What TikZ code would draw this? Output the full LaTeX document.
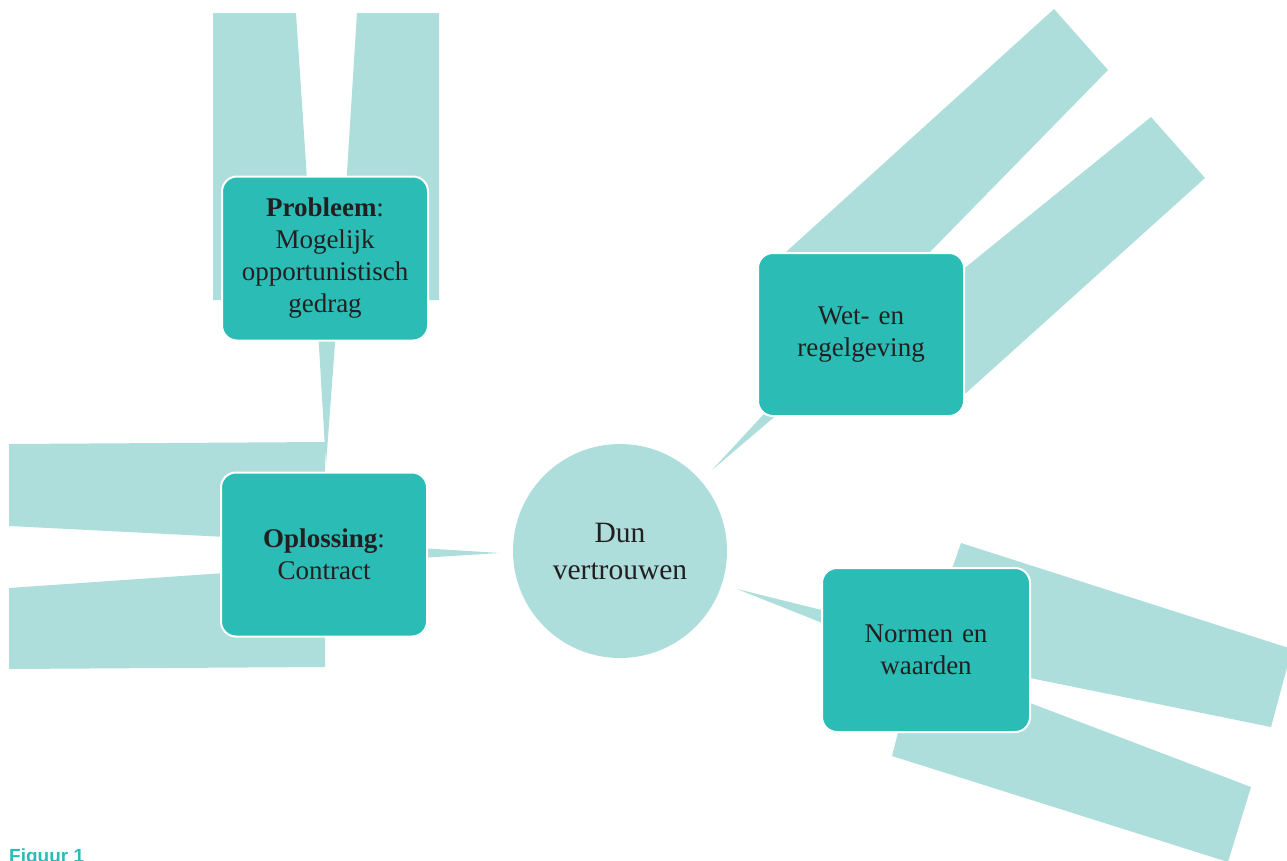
\documentclass[tikz,border=0pt]{standalone}
\usepackage{fontspec}
\setmainfont{Liberation Serif}
\setsansfont{Liberation Sans}
\definecolor{lightteal}{HTML}{ADDEDB}
\definecolor{darkteal}{HTML}{2CBCB6}
\definecolor{ink}{HTML}{231F20}
\begin{document}
\begin{tikzpicture}[x=1pt,y=-1pt,
  box/.style={draw=white, line width=2pt, fill=darkteal, rounded corners=15pt,
    minimum width=206pt, minimum height=164pt, text width=200pt, align=center,
    font=\fontsize{27}{32}\selectfont, text=ink, inner sep=0pt},
  bar/.style={fill=lightteal, draw=none},
  hub/.style={circle, fill=lightteal, draw=none, minimum size=214pt, align=center,
    font=\fontsize{29.5}{37}\selectfont, text=ink, inner sep=0pt}]
\useasboundingbox (0,0) rectangle (1287,860);
\clip (0,0) rectangle (1287,860);

% bars behind "Probleem"
\fill[bar] (213,13) -- (296,13) -- (315,300) -- (213,300) -- cycle;
\fill[bar] (357,13) -- (439,13) -- (439,300) -- (339,300) -- cycle;
% bars behind "Oplossing"
\fill[bar] (9,444) -- (325,442) -- (325,542) -- (9,526) -- cycle;
\fill[bar] (9,588) -- (325,566) -- (325,667) -- (9,669) -- cycle;
% bars behind "Wet- en regelgeving"
\fill[bar] (1054,9) -- (1108,70) -- (930,252) -- (870,320) -- (790,320) -- (786,252) -- cycle;
\fill[bar] (1151,117) -- (1205,178) -- (966,393) -- (940,393) -- (940,267) -- (966,267) -- cycle;
% bars behind "Normen en waarden"
\fill[bar] (961,543) -- (1292,649) -- (1271,727) -- (1030,678) -- (923,652) -- cycle;
\fill[bar] (892,756) -- (1228,862) -- (1251,787) -- (1030,703) -- (930,665) -- (909,690) -- cycle;

% hub
\node[hub] (dun) at (620,551) {Dun\\vertrouwen};

% wedge connectors
\coordinate (tipPO) at (326,465);
\coordinate (tipOC) at (500,553);
\coordinate (tipCW) at (712,470);
\coordinate (tipCN) at (737,589);
\fill[bar] (318,330) -- (336,330) -- (tipPO) -- cycle;
\fill[bar] (420,548) -- (tipOC) -- (420,558) -- cycle;
\fill[bar] (tipCW) -- (787,389) -- (806,390) -- cycle;
\fill[bar] (tipCN) -- (850,617) -- (850,634) -- cycle;

% boxes
\node[box] (prob) at (325,258.5) {\textbf{Probleem}:\\Mogelijk\\opportunistisch\\gedrag};
\node[box] (opl) at (324,554.5) {\textbf{Oplossing}:\\Contract};
\node[box, minimum height=163pt] (wet) at (861,334.5) {Wet- en\\regelgeving};
\node[box, minimum width=208pt] (norm) at (926,650) {Normen en\\waarden};

% caption (cut off at the bottom edge, as in the reference)
\node[anchor=base west, text=darkteal, font=\sffamily\bfseries\fontsize{19}{19}\selectfont, inner sep=0pt] (fig) at (9,862) {Figuur 1};
\end{tikzpicture}
\end{document}
